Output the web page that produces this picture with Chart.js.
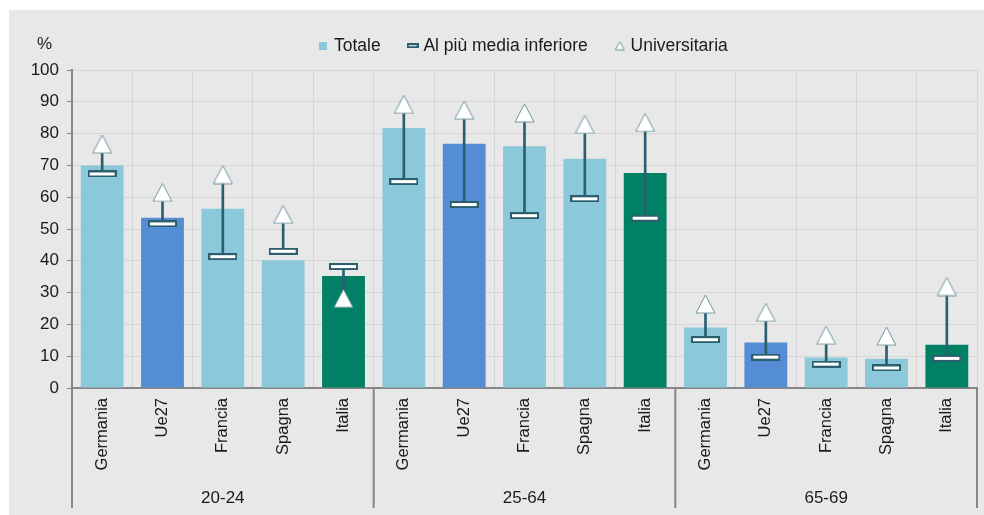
<!DOCTYPE html>
<html>
<head>
<meta charset="utf-8">
<script src="https://cdn.jsdelivr.net/npm/chart.js@4.4.1/dist/chart.umd.min.js"></script>
<style>
  html, body { margin: 0; padding: 0; background: #ffffff; }
  #panel { position: absolute; left: 9px; top: 10px; width: 975px; height: 505px; background: #e8e8e8; }
  #chart { position: absolute; left: 0; top: 0; }
</style>
</head>
<body>
<div id="panel"></div>
<canvas id="chart" width="984" height="515"></canvas>
<script>
// ===== DATA =====
const countries = ['Germania', 'Ue27', 'Francia', 'Spagna', 'Italia'];
const ageGroups = ['20-24', '25-64', '65-69'];
const totale = [70.0, 53.5, 56.4, 40.2, 35.2, 81.8, 76.8, 76.0, 72.1, 67.6, 19.0, 14.3, 9.6, 9.2, 13.6];
const mediaInferiore = [67.3, 51.6, 41.3, 43.0, 38.2, 64.9, 57.7, 54.2, 59.5, 53.4, 15.2, 9.7, 7.5, 6.3, 9.3];
const universitaria = [76.7, 61.5, 67.1, 54.6, 28.2, 89.2, 87.4, 86.5, 82.9, 83.5, 26.4, 23.8, 16.6, 16.3, 31.9];
const yTicks = [0, 10, 20, 30, 40, 50, 60, 70, 80, 90, 100];

// ===== COLORS =====
const COLORS = {
  light: '#8bc8da',
  ue: '#548dd4',
  italia: '#008064',
  line: '#2b5f6e',
  triBorder: '#6e96a0',
  grid: '#d6d6d6',
  axis: '#868686',
  text: '#1a1a1a',
};
const FONT = "'Liberation Sans', Arial, sans-serif";

const labels = [];
ageGroups.forEach(() => countries.forEach((c) => labels.push(c)));
const barColors = labels.map((c) => (c === 'Italia' ? COLORS.italia : c === 'Ue27' ? COLORS.ue : COLORS.light));
const ranges = mediaInferiore.map((v, i) => [v, universitaria[i]]);

// marker images
function makeSquare(s, color) {
  const c = document.createElement('canvas');
  c.width = s; c.height = s;
  const g = c.getContext('2d');
  g.fillStyle = color;
  g.fillRect(0, 0, s, s);
  return c;
}
function makeDash(w, h) {
  const c = document.createElement('canvas');
  c.width = w; c.height = h;
  const g = c.getContext('2d');
  g.fillStyle = COLORS.line;
  g.fillRect(0, 0, w, h);
  g.fillStyle = '#ffffff';
  g.fillRect(2, 2, w - 4, h - 4);
  return c;
}
function makeTriangle(w, h) {
  const c = document.createElement('canvas');
  c.width = w; c.height = h;
  const g = c.getContext('2d');
  g.beginPath();
  g.moveTo(w / 2, 1);
  g.lineTo(w - 1, h - 1);
  g.lineTo(1, h - 1);
  g.closePath();
  g.fillStyle = '#ffffff';
  g.fill();
  g.strokeStyle = COLORS.triBorder;
  g.lineWidth = 1;
  g.stroke();
  return c;
}
const dashMarker = makeDash(29, 7);
const dashLegend = makeDash(12, 5);
const triMarker = makeTriangle(21, 20);
const triLegend = makeTriangle(11, 10);
const boxLegend = makeSquare(8, COLORS.light);

// ===== PLUGINS =====
const extras = {
  id: 'extras',
  afterDraw(chart) {
    const { ctx, chartArea, scales } = chart;
    const x = scales.x;
    ctx.save();
    // group separators under the axis
    ctx.strokeStyle = COLORS.axis;
    ctx.lineWidth = 2;
    for (let g = 0; g <= ageGroups.length; g++) {
      const i = g * countries.length;
      let px;
      if (i === 0) px = chartArea.left;
      else if (i >= labels.length) px = chartArea.right;
      else px = (x.getPixelForTick(i - 1) + x.getPixelForTick(i)) / 2;
      ctx.beginPath();
      ctx.moveTo(px, chartArea.bottom);
      ctx.lineTo(px, 508);
      ctx.stroke();
    }
    // unit label
    ctx.fillStyle = COLORS.text;
    ctx.font = '17px ' + FONT;
    ctx.textAlign = 'center';
    ctx.textBaseline = 'middle';
    ctx.fillText('%', 44.5, 44);
    ctx.restore();
  },
};

// ===== CHART =====
new Chart(document.getElementById('chart'), {
  type: 'bar',
  data: {
    labels,
    datasets: [
      {
        label: 'Universitaria',
        type: 'line',
        data: universitaria,
        showLine: false,
        pointStyle: triMarker,
        pointRadius: 10,
        order: 0,
      },
      {
        label: 'Al più media inferiore',
        type: 'line',
        data: mediaInferiore,
        showLine: false,
        pointStyle: dashMarker,
        pointRadius: 10,
        order: 1,
      },
      {
        label: 'range',
        data: ranges,
        backgroundColor: COLORS.line,
        barThickness: 2,
        grouped: false,
        order: 2,
      },
      {
        label: 'Totale',
        data: totale,
        backgroundColor: barColors,
        categoryPercentage: 1,
        barPercentage: 0.71,
        grouped: false,
        order: 3,
      },
    ],
  },
  options: {
    responsive: false,
    animation: false,
    devicePixelRatio: 1,
    layout: { autoPadding: false, padding: { left: 10, right: 7, top: 7, bottom: 7 } },
    plugins: {
      tooltip: { enabled: false },
      legend: {
        position: 'top',
        fullSize: false,
        maxWidth: 881,
        labels: {
          color: COLORS.text,
          font: { family: FONT, size: 17.5 },
          usePointStyle: true,
          boxWidth: 4,
          padding: 30,
          generateLabels: () => [
            { text: 'Totale', pointStyle: boxLegend, fontColor: COLORS.text },
            { text: 'Al più media inferiore', pointStyle: dashLegend, fontColor: COLORS.text },
            { text: 'Universitaria', pointStyle: triLegend, fontColor: COLORS.text },
          ],
        },
      },
    },
    scales: {
      x: {
        type: 'category',
        offset: true,
        grid: { offset: true, color: COLORS.grid, drawTicks: false },
        border: { color: COLORS.axis, width: 2 },
        ticks: {
          color: COLORS.text,
          font: { family: FONT, size: 16.5 },
          minRotation: 90,
          maxRotation: 90,
          autoSkip: false,
          padding: 10,
        },
        afterFit: (s) => { s.height = 90; },
      },
      x2: {
        type: 'category',
        labels: ageGroups,
        position: 'bottom',
        offset: true,
        grid: { display: false },
        border: { display: false },
        ticks: { color: COLORS.text, font: { family: FONT, size: 17 }, padding: 2, maxRotation: 0 },
        afterFit: (s) => { s.height = 30; },
      },
      spacer: {
        type: 'category',
        labels: [''],
        position: 'top',
        grid: { display: false },
        border: { display: false },
        ticks: { display: false },
        afterFit: (s) => { s.height = 5.5; },
      },
      y: {
        min: 0,
        max: 100,
        afterBuildTicks: (s) => { s.ticks = yTicks.map((v) => ({ value: v })); },
        grid: { color: COLORS.grid, tickColor: COLORS.axis, tickLength: 5 },
        border: { color: COLORS.axis, width: 2 },
        ticks: { color: COLORS.text, font: { family: FONT, size: 17 }, padding: 8 },
        afterFit: (s) => { s.width = 62; },
      },
    },
  },
  plugins: [extras],
});
</script>
</body>
</html>
